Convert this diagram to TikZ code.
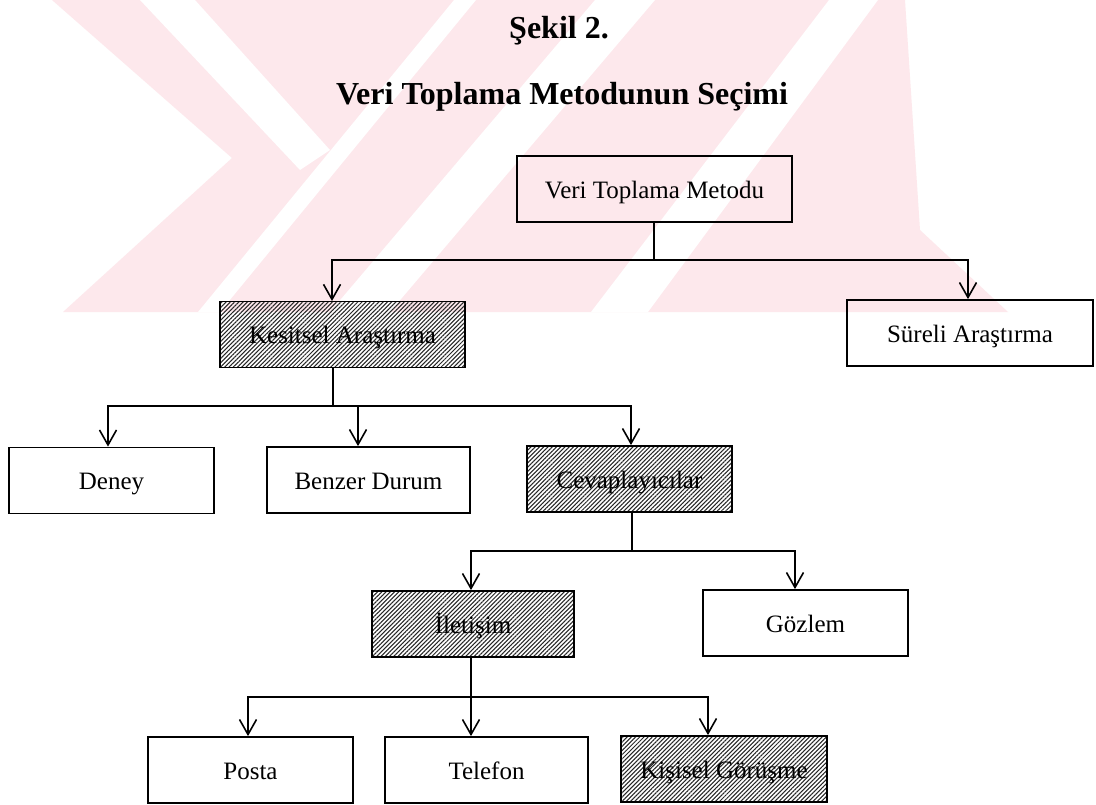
\documentclass[tikz,border=0pt]{standalone}
\usepackage{fontspec}
\setmainfont{Liberation Serif}
\usetikzlibrary{arrows.meta,patterns.meta}
\definecolor{wmpink}{RGB}{253,232,236}
\begin{document}
\begin{tikzpicture}[x=1pt,y=-1pt,
  box/.style={draw=black,line width=1.8pt,rectangle,inner sep=0pt,
    minimum width=#1,minimum height=66pt,text height=18pt,text depth=0pt,
    font=\fontsize{25}{30}\selectfont},
  box/.default=205pt,
  hatch/.style={pattern={Lines[angle=45,distance=3pt,line width=1.05pt]},pattern color=black!85},
  conn/.style={line width=1.6pt,draw=black},
  arr/.style={conn,-{Straight Barb[length=15pt,width=17pt,line width=1.6pt]}},
  ttl/.style={font=\fontsize{32}{38}\selectfont\bfseries,anchor=base},
  wm/.style={fill=wmpink,draw=none},
  wmgap/.style={fill=white,draw=none}]
\useasboundingbox (0,0) rectangle (1096,804);
\fill[white] (0,0) rectangle (1096,804);

% faint watermark (background)
\begin{scope}
  \clip (0,0) rectangle (1096,312);
  \fill[wm] (52,0) -- (905,0) -- (920,230) -- (1008,312) -- (63,312) -- (232,158) -- cycle;
  \fill[wmgap] (198,312) -- (220,312) -- (476,0) -- (454,0) -- cycle;
  \fill[wmgap] (330,312) -- (390,312) -- (655,0) -- (595,0) -- cycle;
  \fill[wmgap] (591,312) -- (648,312) -- (878,0) -- (829,0) -- cycle;
  \fill[wmgap] (140,0) -- (195,0) -- (330,150) -- (300,170) -- cycle;
\end{scope}

% titles
\node[ttl] (t1) at (559,38) {Şekil 2.};
\node[ttl] (t2) at (562,104) {Veri Toplama Metodunun Seçimi};

% boxes
\node[box=275pt] (root) at (654.5,189) {Veri Toplama Metodu};
\node[box=245pt,hatch] (kes) at (342.5,334.5) {Kesitsel Araştırma};
\node[box=246pt] (sur) at (970,333) {Süreli Araştırma};
\node[box] (den) at (111.5,480.5) {Deney};
\node[box=203pt] (ben) at (368.5,480) {Benzer Durum};
\node[box,hatch] (cev) at (629.5,479) {Cevaplayıcılar};
\node[box=202pt,hatch] (ile) at (473,624) {İletişim};
\node[box] (goz) at (805.5,623) {Gözlem};
\node[box] (pos) at (250.5,770) {Posta};
\node[box=203pt] (tel) at (486.5,770) {Telefon};
\node[box=206pt,hatch] (kis) at (724,769) {Kişisel Görüşme};

% bus coordinates
\coordinate (b1) at (654,260);
\coordinate (b2) at (333,406);
\coordinate (b3) at (632,551);
\coordinate (b4) at (471,697);

% level 1
\draw[conn] (root.south -| b1) -- (b1);
\draw[arr] (b1) -- (b1 -| 332,0) -- (kes.north -| 332,0);
\draw[arr] (b1) -- (b1 -| 968,0) -- (sur.north -| 968,0);
% level 2
\draw[conn] (kes.south -| b2) -- (b2);
\draw[arr] (b2) -- (b2 -| 108,0) -- (den.north -| 108,0);
\draw[arr] (b2 -| 358,0) -- (ben.north -| 358,0);
\draw[arr] (b2) -- (b2 -| 631,0) -- (cev.north -| 631,0);
% level 3
\draw[conn] (cev.south -| b3) -- (b3);
\draw[arr] (b3) -- (b3 -| 471,0) -- (ile.north -| 471,0);
\draw[arr] (b3) -- (b3 -| 795,0) -- (goz.north -| 795,0);
% level 4
\draw[conn] (ile.south -| b4) -- (b4);
\draw[arr] (b4) -- (b4 -| 248,0) -- (pos.north -| 248,0);
\draw[arr] (b4) -- (tel.north -| b4);
\draw[arr] (b4) -- (b4 -| 708,0) -- (kis.north -| 708,0);
\end{tikzpicture}
\end{document}
